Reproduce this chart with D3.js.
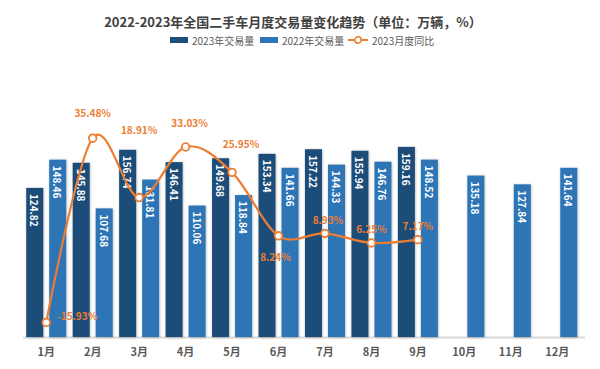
<!DOCTYPE html>
<html>
<head>
<meta charset="utf-8">
<script src="https://cdn.jsdelivr.net/npm/d3@7"></script>
<style>
    body { margin: 0; background: #fff; }
    text { font-family: "Noto Sans CJK SC", "Noto Sans", sans-serif; }
</style>
</head>
<body>
<div id="chart"></div>
<script>
// data
var months = ["1月", "2月", "3月", "4月", "5月", "6月", "7月", "8月", "9月", "10月", "11月", "12月"];
var sales2023 = [124.82, 145.88, 156.74, 146.41, 149.68, 153.34, 157.22, 155.94, 159.16];
var sales2022 = [148.46, 107.68, 131.81, 110.06, 118.84, 141.66, 144.33, 146.76, 148.52, 135.18, 127.84, 141.64];
var yoy2023 = [-15.93, 35.48, 18.91, 33.03, 25.95, 8.24, 8.93, 6.25, 7.17];
var seriesNames = ["2023年交易量", "2022年交易量", "2023月度同比"];

// where each percent label sits relative to its point
var yoyLabelOffset = [[31, -7], [0, -26], [0, -68], [4, -24], [9, -29], [-3, 21], [3, -14], [0, -14], [0, -14]];

var svgWidth = 600;
var svgHeight = 369;

var darkBlue = "#1f4e79";
var midBlue = "#2e75b6";
var orange = "#ed7d31";

var svg = d3.select("#chart")
    .append("svg")
    .attr("width", svgWidth)
    .attr("height", svgHeight);

// soft shadow like the office chart
var defs = svg.append("defs");
defs.append("filter")
    .attr("id", "shadow")
    .attr("x", "-20%").attr("y", "-10%").attr("width", "140%").attr("height", "120%")
    .append("feDropShadow")
    .attr("dx", 0.5).attr("dy", 0.5)
    .attr("stdDeviation", 0.8)
    .attr("flood-color", "#000")
    .attr("flood-opacity", 0.3);

// scales
var xScale = d3.scaleBand()
    .domain(months)
    .range([23, 580.5]);

var xInner = d3.scaleBand()
    .domain(["2023", "2022"])
    .range([0, xScale.bandwidth()])
    .paddingInner(0.26)
    .paddingOuter(0.14);

var yLeft = d3.scaleLinear()
    .domain([0, 180])
    .range([337, 122]);

var yRight = d3.scaleLinear()
    .domain([-20, 40])
    .range([337, 122]);

// title
svg.append("text")
    .attr("x", 293)
    .attr("y", 21)
    .attr("text-anchor", "middle")
    .attr("dominant-baseline", "central")
    .style("font-size", "13px")
    .style("font-weight", "bold")
    .style("fill", "#404040")
    .text("2022-2023年全国二手车月度交易量变化趋势（单位：万辆，%）");

// legend
var legend = svg.append("g").attr("transform", "translate(0, 40)");
var legendX = [170, 260, 348];

[darkBlue, midBlue].forEach(function (c, i) {
    legend.append("rect")
        .attr("x", legendX[i])
        .attr("y", -3)
        .attr("width", 18)
        .attr("height", 6)
        .attr("fill", c);
});
legend.append("line")
    .attr("x1", legendX[2]).attr("x2", legendX[2] + 20)
    .attr("stroke", orange)
    .attr("stroke-width", 2);
legend.append("circle")
    .attr("cx", legendX[2] + 10)
    .attr("r", 3.2)
    .attr("fill", "#fff")
    .attr("stroke", orange)
    .attr("stroke-width", 1.5);

legend.selectAll("text.legendText")
    .data(seriesNames)
    .enter()
    .append("text")
    .attr("class", "legendText")
    .attr("x", function (d, i) { return legendX[i] + (i === 2 ? 24 : 22); })
    .attr("dominant-baseline", "central")
    .style("font-size", "10px")
    .style("fill", "#595959")
    .text(function (d) { return d; });

// x axis line
svg.append("line")
    .attr("x1", 23).attr("x2", 585)
    .attr("y1", yLeft(0) + 0.5).attr("y2", yLeft(0) + 0.5)
    .attr("stroke", "#d9d9d9")
    .attr("stroke-width", 2);

// month labels
svg.selectAll("text.month")
    .data(months)
    .enter()
    .append("text")
    .attr("class", "month")
    .attr("x", function (d) { return xScale(d) + xScale.bandwidth() / 2; })
    .attr("y", 351)
    .attr("text-anchor", "middle")
    .attr("dominant-baseline", "central")
    .style("font-size", "11px")
    .style("font-weight", "bold")
    .style("fill", "#595959")
    .text(function (d) { return d; });

// bars
function drawBars(values, key, color) {
    var g = svg.append("g");
    g.selectAll("rect")
        .data(values)
        .enter()
        .append("rect")
        .attr("x", function (d, i) { return xScale(months[i]) + xInner(key); })
        .attr("y", function (d) { return yLeft(d); })
        .attr("width", xInner.bandwidth())
        .attr("height", function (d) { return yLeft(0) - yLeft(d); })
        .attr("fill", color)
        .attr("filter", "url(#shadow)");

    g.selectAll("text")
        .data(values)
        .enter()
        .append("text")
        .attr("transform", function (d, i) {
            var cx = xScale(months[i]) + xInner(key) + xInner.bandwidth() / 2;
            return "translate(" + cx + "," + (yLeft(d) + 6) + ") rotate(90)";
        })
        .attr("dominant-baseline", "central")
        .style("font-size", "10px")
        .style("font-weight", "bold")
        .style("fill", "#fff")
        .text(function (d) { return d.toFixed(2); });
}

drawBars(sales2023, "2023", darkBlue);
drawBars(sales2022, "2022", midBlue);

// smoothed yoy line
var line = d3.line()
    .x(function (d, i) { return xScale(months[i]) + xScale.bandwidth() / 2; })
    .y(function (d) { return yRight(d); })
    .curve(d3.curveCardinal.tension(0));

svg.append("path")
    .datum(yoy2023)
    .attr("d", line)
    .attr("fill", "none")
    .attr("stroke", orange)
    .attr("stroke-width", 2.2);

svg.selectAll("circle.point")
    .data(yoy2023)
    .enter()
    .append("circle")
    .attr("class", "point")
    .attr("cx", function (d, i) { return xScale(months[i]) + xScale.bandwidth() / 2; })
    .attr("cy", function (d) { return yRight(d); })
    .attr("r", 3.8)
    .attr("fill", "#fff")
    .attr("stroke", orange)
    .attr("stroke-width", 1.8);

svg.selectAll("text.pct")
    .data(yoy2023)
    .enter()
    .append("text")
    .attr("class", "pct")
    .attr("x", function (d, i) { return xScale(months[i]) + xScale.bandwidth() / 2 + yoyLabelOffset[i][0]; })
    .attr("y", function (d, i) { return yRight(d) + yoyLabelOffset[i][1]; })
    .attr("text-anchor", "middle")
    .attr("dominant-baseline", "central")
    .style("font-size", "10px")
    .style("font-weight", "bold")
    .style("fill", orange)
    .text(function (d) { return d.toFixed(2) + "%"; });
</script>
</body>
</html>
